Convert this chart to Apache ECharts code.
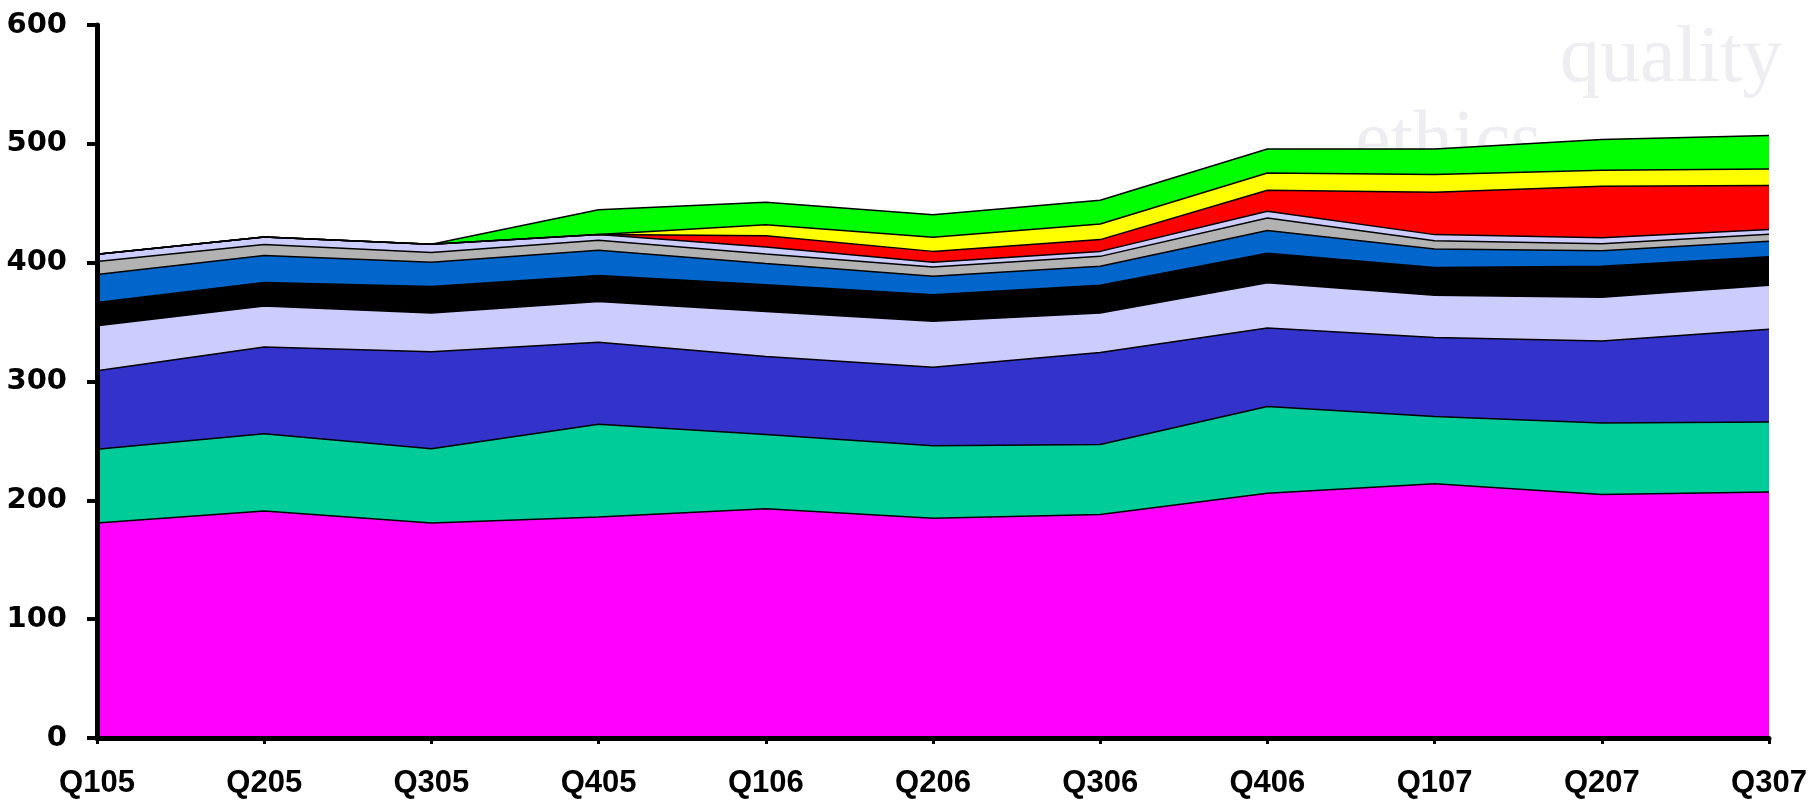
<!DOCTYPE html>
<html>
<head>
<meta charset="utf-8">
<script src="https://cdn.jsdelivr.net/npm/echarts@6/dist/echarts.min.js"></script>
<style>
html,body{margin:0;padding:0;background:#fff;}
#chart{width:1820px;height:802px;}
</style>
</head>
<body>
<div id="chart"></div>
<script>
var categories = ['Q105','Q205','Q305','Q405','Q106','Q206','Q306','Q406','Q107','Q207','Q307'];
var yTicks = [0,100,200,300,400,500,600];

var magenta  = [181,191,181,186,193,185,188,206,214,205,207];
var teal     = [62,65,62.5,78,62.5,61,59,73,56.6,60,59];
var violet   = [66,73,81.5,69,65.5,66,77.5,66,66.4,69,78];
var lavender = [38,34.5,32.6,34.4,38,38.6,33.1,38,35.5,37,37];
var black    = [19.5,19.9,22.4,21.9,22.5,22.4,23.4,25,23.5,26,24];
var blue     = [23.5,22.6,20.3,21.1,17.7,15.5,16,19,15.5,13,13];
var gray     = [11,9.2,8.2,8.4,8.1,7.9,8.3,10.6,7,6,6];
var lightLav = [6,6.5,7,4.8,5.9,3.9,4.2,5.6,5.1,5,4];
var red      = [0,0,0,0,9.5,9.2,9.9,17.7,35.6,43.3,37];
var yellow   = [0,0,0,0,9.3,11.8,13.2,14.6,14.9,13.5,13.9];
var green    = [0,0,0,21,18.8,19.1,19.9,20.2,21.6,25.8,28.1];

var layers = [
  {name:'S1', data:magenta,  color:'#FF00FF'},
  {name:'S2', data:teal,     color:'#00CC99'},
  {name:'S3', data:violet,   color:'#3333CC'},
  {name:'S4', data:lavender, color:'#CCCCFF'},
  {name:'S5', data:black,    color:'#000000'},
  {name:'S6', data:blue,     color:'#0066CC'},
  {name:'S7', data:gray,     color:'#B2B2B2'},
  {name:'S8', data:lightLav, color:'#CCCCFF'},
  {name:'S9', data:red,      color:'#FF0000'},
  {name:'S10',data:yellow,   color:'#FFFF00'},
  {name:'S11',data:green,    color:'#00FF00'}
];

var chart = echarts.init(document.getElementById('chart'));
var option = {
  backgroundColor:'#ffffff',
  animation:false,
  graphic:[
    {type:'text', z:-10, left:1560, top:20,
     style:{text:'quality', font:'80px "Liberation Serif", serif', fill:'#eeeef2'}},
    {type:'text', z:-10, left:1355, top:104,
     style:{text:'ethics', font:'80px "Liberation Serif", serif', fill:'#eeeef2'}}
  ],
  grid:{left:97, right:51, top:25, bottom:64, containLabel:false},
  xAxis:{
    type:'category', data:categories, boundaryGap:false, z:10,
    axisLine:{lineStyle:{color:'#000', width:5}},
    axisTick:{show:true, alignWithLabel:true, length:6, lineStyle:{color:'#000', width:3}},
    axisLabel:{color:'#000', fontFamily:'"Liberation Sans Narrow","Arial Narrow","Liberation Sans",sans-serif',
               fontWeight:'bold', fontSize:31, margin:30},
    splitLine:{show:false}
  },
  yAxis:{
    type:'value', min:0, max:600, interval:100, z:10,
    axisLine:{show:true, lineStyle:{color:'#000', width:5}},
    axisTick:{show:true, length:10, lineStyle:{color:'#000', width:4}},
    axisLabel:{color:'#000', fontFamily:'"DejaVu Sans",sans-serif', fontWeight:'bold', fontSize:29, margin:30,
               formatter:function(v){ return yTicks.indexOf(v) >= 0 ? String(v) : ''; }},
    splitLine:{show:false}
  },
  series: layers.map(function(l){
    return {
      name:l.name, type:'line', stack:'total', data:l.data,
      showSymbol:false, symbol:'none', smooth:false,
      lineStyle:{color:'#000', width:1.5},
      areaStyle:{color:l.color, opacity:1},
      itemStyle:{color:l.color}
    };
  })
};
chart.setOption(option);
</script>
</body>
</html>
